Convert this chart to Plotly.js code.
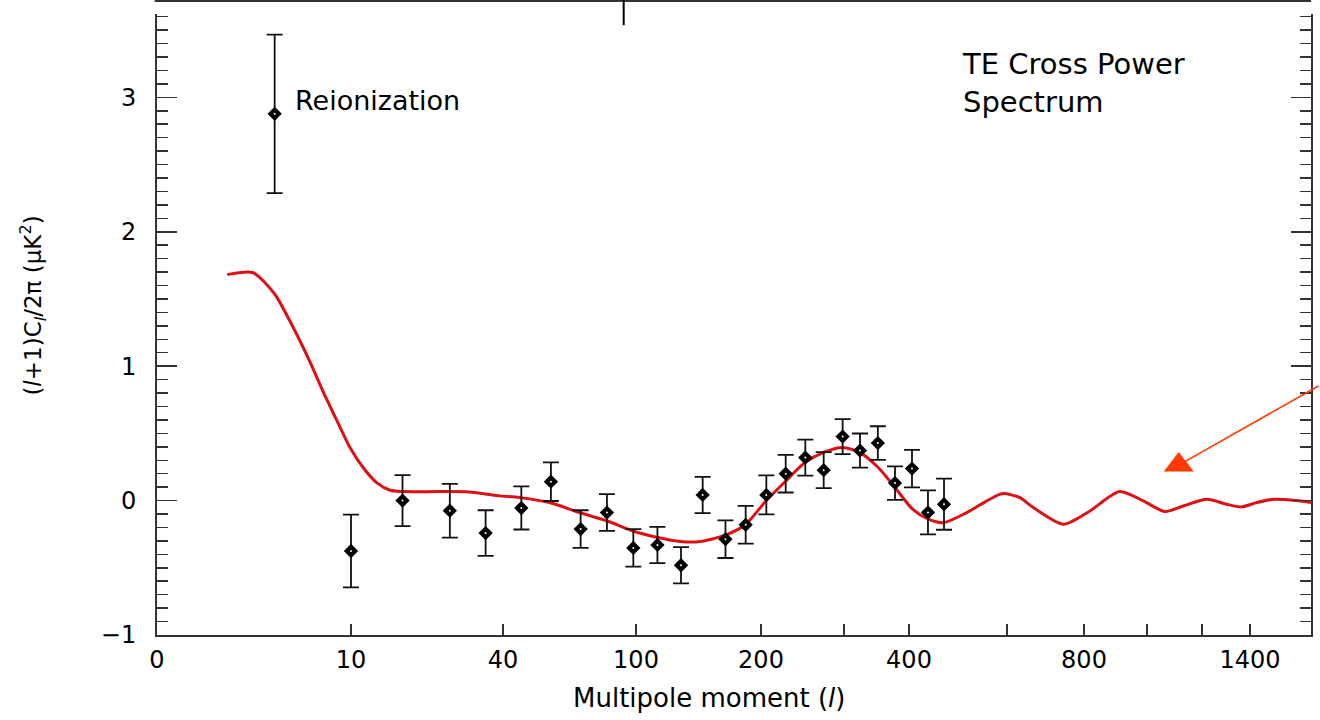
<!DOCTYPE html>
<html>
<head>
<meta charset="utf-8">
<script src="https://cdn.plot.ly/plotly-3.0.1.min.js"></script>
<style>
  html, body { margin: 0; padding: 0; background: #fff; }
  #chart { width: 1320px; height: 720px; }
</style>
</head>
<body>
<div id="chart"></div>
<script>
// Multipole axis: piecewise scale, log(l+3) interpolated between the anchor multipoles
const SCALE_L   = [0, 10, 40, 100, 200, 300, 400, 600, 800, 1000, 1200, 1400, 1700];
const SCALE_POS = [0, 194, 346, 479, 604, 687, 752, 850, 927, 990, 1045, 1093, 1154];

// Best-fit model TE spectrum
const MODEL_L  = [2.1, 3.2, 4.3, 5.4, 6.5, 7.5, 8.7, 9.9, 11.3, 12.9, 14.7, 16.6, 23, 30, 39, 45, 56, 68, 82, 98,
                  113, 128, 143, 165, 184, 205, 226, 248, 271, 298, 322, 349, 376, 406, 433, 462, 508, 552, 583, 595,
                  630, 662, 741, 817, 907, 987, 1061, 1128, 1218, 1299, 1363, 1430, 1508, 1624, 1700];
const MODEL_TE = [1.681, 1.695, 1.537, 1.288, 1.040, 0.817, 0.593, 0.395, 0.246, 0.134, 0.077, 0.067, 0.067, 0.064, 0.035, 0.022, -0.018, -0.089, -0.150, -0.226,
                  -0.275, -0.305, -0.305, -0.255, -0.176, -0.002, 0.147, 0.283, 0.357, 0.395, 0.357, 0.246, 0.097, -0.064, -0.138, -0.164, -0.089, -0.002, 0.048, 0.052,
                  0.022, -0.052, -0.176, -0.077, 0.067, -0.002, -0.082, -0.040, 0.010, -0.027, -0.047, -0.015, 0.010, 0.000, -0.015];

// Binned TE measurements with 1-sigma errors
const BAND_L   = [10, 16.5, 25.3, 34.5, 45.5, 55.9, 68.6, 82.1, 98.2, 112.7, 128.5, 144.9, 164.4, 183.8, 205.3,
                  225.7, 248.4, 271.7, 298, 322, 348.5, 376, 405, 432.7, 462.4];
const BAND_TE  = [-0.375, 0.000, -0.075, -0.242, -0.055, 0.141, -0.212, -0.089, -0.352, -0.330, -0.481, 0.042, -0.287, -0.180, 0.042,
                  0.200, 0.320, 0.226, 0.476, 0.372, 0.428, 0.130, 0.238, -0.088, -0.027];
const BAND_ERR = [0.27, 0.19, 0.20, 0.17, 0.16, 0.144, 0.14, 0.137, 0.14, 0.135, 0.135, 0.135, 0.14, 0.14, 0.145,
                  0.14, 0.134, 0.134, 0.13, 0.127, 0.125, 0.124, 0.14, 0.164, 0.19];

// Low-l reionization band
const REION_L   = [4.3];
const REION_TE  = [2.877];
const REION_ERR = [0.59];

// Multipole ticks (the unlabelled ones are plain marks)
const XTICK_L    = [0, 10, 40, 100, 200, 300, 400, 600, 800, 1000, 1200, 1400];
const XTICK_TEXT = ['0', '10', '40', '100', '200', '', '400', '', '800', '', '', '1400'];

// Pointer to the high-l damping tail, and the angular-scale tick on the upper frame
const POINTER_L = 1111, POINTER_TE = 0.264;
const TOP_TICK_L = 92;

function warp(l) {
  const g = Math.log(l + 3);
  const G = SCALE_L.map(v => Math.log(v + 3));
  let i = 0;
  while (i < G.length - 2 && g > G[i + 1]) i++;
  const t = (g - G[i]) / (G[i + 1] - G[i]);
  return SCALE_POS[i] + t * (SCALE_POS[i + 1] - SCALE_POS[i]);
}

const FONT = 'DejaVu Sans, Liberation Sans, Arial, sans-serif';
const AXIS_COLOR = '#333333';
const RED = '#dd1015';
const ORANGE = '#ff3a00';

const traces = [
  {
    x: MODEL_L.map(warp), y: MODEL_TE,
    mode: 'lines', type: 'scatter',
    line: { color: RED, width: 3, shape: 'spline', smoothing: 0.7 },
    hoverinfo: 'skip'
  },
  {
    x: BAND_L.map(warp), y: BAND_TE,
    mode: 'markers', type: 'scatter',
    marker: { symbol: 'diamond', size: 11, color: '#000', line: { width: 0 } },
    error_y: { type: 'data', array: BAND_ERR, visible: true, color: '#111', thickness: 1.8, width: 8 }
  },
  {
    x: REION_L.map(warp), y: REION_TE,
    mode: 'markers', type: 'scatter',
    marker: { symbol: 'diamond', size: 11, color: '#000', line: { width: 0 } },
    error_y: { type: 'data', array: REION_ERR, visible: true, color: '#111', thickness: 1.8, width: 8 }
  },
  {
    x: BAND_L.concat(REION_L).map(warp), y: BAND_TE.concat(REION_TE),
    mode: 'markers', type: 'scatter',
    marker: { symbol: 'circle', size: 2, color: '#fff', line: { width: 0 } },
    hoverinfo: 'skip'
  },
  {
    x: [warp(POINTER_L)], y: [POINTER_TE],
    mode: 'markers', type: 'scatter',
    marker: { symbol: 'triangle-up', size: 26, color: ORANGE, line: { width: 0 } },
    hoverinfo: 'skip'
  }
];

const layout = {
  width: 1320, height: 720,
  margin: { l: 157, r: 9, t: 14, b: 85 },
  paper_bgcolor: '#fff', plot_bgcolor: '#fff',
  showlegend: false,
  font: { family: FONT, color: '#000' },
  xaxis: {
    range: [0, warp(1700)],
    tickmode: 'array',
    tickvals: XTICK_L.map(warp),
    ticktext: XTICK_TEXT,
    ticks: 'inside', ticklen: 11, tickwidth: 1.5, tickcolor: AXIS_COLOR,
    showline: true, linecolor: AXIS_COLOR, linewidth: 2,
    showgrid: false, zeroline: false,
    tickfont: { family: FONT, size: 24, color: '#000' },
    ticklabelstandoff: 2
  },
  yaxis: {
    range: [-1, 3.62],
    tickmode: 'linear', tick0: -1, dtick: 1,
    ticks: 'inside', ticklen: 20, tickwidth: 1.5, tickcolor: AXIS_COLOR,
    minor: { dtick: 0.1, ticks: 'inside', ticklen: 11, tickwidth: 1.5, tickcolor: AXIS_COLOR, showgrid: false },
    showline: true, linecolor: AXIS_COLOR, linewidth: 2, mirror: 'allticks',
    showgrid: false, zeroline: false,
    tickfont: { family: FONT, size: 24, color: '#000' },
    ticklabelstandoff: 14
  },
  shapes: [
    // upper frame line
    { type: 'line', xref: 'paper', yref: 'paper', x0: -0.002, x1: 1.0, y0: 1.021, y1: 1.021,
      line: { color: AXIS_COLOR, width: 2 } },
    // angular-scale tick hanging from the upper frame
    { type: 'line', xref: 'x', yref: 'paper', x0: warp(TOP_TICK_L), x1: warp(TOP_TICK_L), y0: 0.982, y1: 1.024,
      line: { color: '#000', width: 2 } }
  ],
  annotations: [
    // axis titles
    { xref: 'paper', yref: 'paper', x: 0.478, y: -0.101, xanchor: 'center', yanchor: 'middle',
      text: 'Multipole moment (<i>l</i>)', showarrow: false, font: { family: FONT, size: 26, color: '#000' } },
    { xref: 'paper', yref: 'paper', x: -0.108, y: 0.531, xanchor: 'center', yanchor: 'middle', textangle: -90,
      text: '(<i>l</i>+1)C<sub><i>l</i></sub>/2π (μK<sup>2</sup>)', showarrow: false,
      font: { family: FONT, size: 23, color: '#000' } },
    // labels inside the frame
    { xref: 'paper', yref: 'paper', x: 0.1178, y: 0.860, xanchor: 'left', yanchor: 'middle',
      text: 'Reionization', showarrow: false, font: { family: FONT, size: 27, color: '#000' } },
    { xref: 'paper', yref: 'paper', x: 0.6958, y: 0.889, xanchor: 'left', yanchor: 'middle', align: 'left',
      text: 'TE Cross Power<br>Spectrum', showarrow: false, font: { family: FONT, size: 29, color: '#000' } },
    // arrow shaft toward the damping tail
    { x: warp(POINTER_L), y: POINTER_TE, xref: 'x', yref: 'y', text: '',
      showarrow: true, arrowhead: 0, arrowwidth: 1.6, arrowcolor: ORANGE,
      ax: 145, ay: -80, standoff: 0 }
  ]
};

Plotly.newPlot('chart', traces, layout, { staticPlot: true, displayModeBar: false });
</script>
</body>
</html>
